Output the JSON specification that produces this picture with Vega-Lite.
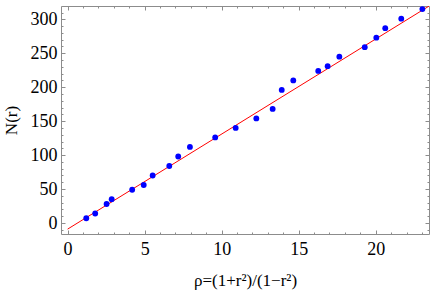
{
  "$schema": "https://vega.github.io/schema/vega-lite/v6.json",
  "width": 368,
  "height": 228,
  "autosize": "none",
  "padding": {"left": 61, "top": 6, "right": 7, "bottom": 61},
  "background": "white",
  "config": {
    "view": {"stroke": null},
    "axis": {
      "domainColor": "#8c8c8c",
      "tickColor": "#8c8c8c",
      "grid": false,
      "labelFont": "Liberation Serif",
      "titleFont": "Liberation Serif",
      "labelFontSize": 18,
      "titleFontSize": 17,
      "titleFontWeight": "normal",
      "labelColor": "black",
      "titleColor": "black"
    }
  },
  "datasets": {
    "pts": [
      {"rho": 1.21, "N": 7},
      {"rho": 1.79, "N": 14},
      {"rho": 2.53, "N": 28},
      {"rho": 2.86, "N": 35},
      {"rho": 4.19, "N": 49},
      {"rho": 4.94, "N": 56},
      {"rho": 5.52, "N": 70},
      {"rho": 6.60, "N": 84},
      {"rho": 7.18, "N": 98},
      {"rho": 7.94, "N": 112},
      {"rho": 9.58, "N": 126},
      {"rho": 10.91, "N": 140},
      {"rho": 12.25, "N": 154},
      {"rho": 13.31, "N": 168},
      {"rho": 13.90, "N": 196},
      {"rho": 14.65, "N": 210},
      {"rho": 16.27, "N": 224},
      {"rho": 16.88, "N": 231},
      {"rho": 17.64, "N": 245},
      {"rho": 19.29, "N": 259},
      {"rho": 20.04, "N": 273},
      {"rho": 20.62, "N": 287},
      {"rho": 21.66, "N": 301},
      {"rho": 23.03, "N": 315}
    ],
    "fit": [
      {"rho": 0, "N": -9},
      {"rho": 23.6, "N": 321.4}
    ]
  },
  "resolve": {"axis": {"x": "independent", "y": "independent"}},
  "layer": [
    {
      "data": {"name": "fit"},
      "mark": {"type": "line", "color": "#ff0000", "strokeWidth": 1, "clip": true},
      "encoding": {
        "x": {"field": "rho", "type": "quantitative",
          "scale": {"domain": [-0.43, 23.46], "nice": false, "zero": false},
          "axis": {"orient": "bottom",
            "values": [0,1,2,3,4,5,6,7,8,9,10,11,12,13,14,15,16,17,18,19,20,21,22,23],
            "labelExpr": "datum.value % 5 === 0 ? datum.label : ''",
            "tickSize": {"condition": {"test": "datum.value % 5 === 0", "value": -4}, "value": -2},
            "labelPadding": 10, "title": "ρ=(1+r²)/(1−r²)", "titlePadding": 12, "labelFlush": false, "labelOverlap": false}},
        "y": {"field": "N", "type": "quantitative",
          "scale": {"domain": [-16.2, 319.6], "nice": false, "zero": false},
          "axis": {"orient": "left",
            "values": [-10,0,10,20,30,40,50,60,70,80,90,100,110,120,130,140,150,160,170,180,190,200,210,220,230,240,250,260,270,280,290,300,310],
            "labelExpr": "datum.value % 50 === 0 ? datum.label : ''",
            "tickSize": {"condition": {"test": "datum.value % 50 === 0", "value": -4}, "value": -2},
            "labelPadding": 8, "title": "N(r)", "titlePadding": 10, "labelFlush": false, "labelOverlap": false}}
      }
    },
    {
      "data": {"name": "pts"},
      "mark": {"type": "circle", "color": "#0000ff", "opacity": 1, "size": 34},
      "encoding": {
        "x": {"field": "rho", "type": "quantitative",
          "axis": {"orient": "top",
            "values": [0,1,2,3,4,5,6,7,8,9,10,11,12,13,14,15,16,17,18,19,20,21,22,23],
            "tickSize": {"condition": {"test": "datum.value % 5 === 0", "value": -4}, "value": -2},
            "labels": false, "title": null}},
        "y": {"field": "N", "type": "quantitative",
          "axis": {"orient": "right",
            "values": [-10,0,10,20,30,40,50,60,70,80,90,100,110,120,130,140,150,160,170,180,190,200,210,220,230,240,250,260,270,280,290,300,310],
            "tickSize": {"condition": {"test": "datum.value % 50 === 0", "value": -4}, "value": -2},
            "labels": false, "title": null}}
      }
    }
  ]
}
